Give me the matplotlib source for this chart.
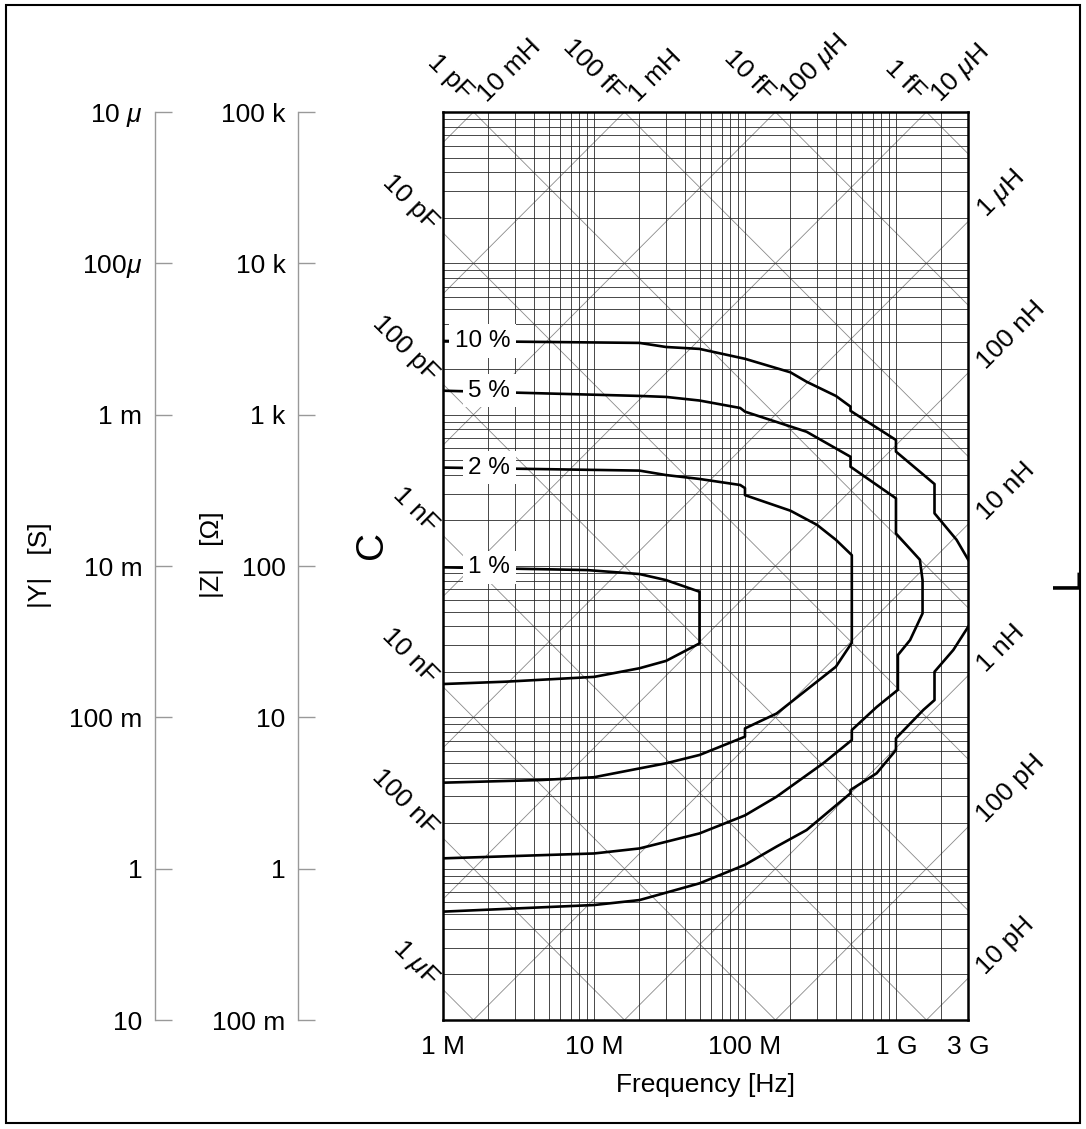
import matplotlib.pyplot as plt
import numpy as np
from matplotlib.ticker import LogLocator, FixedLocator, FixedFormatter, NullLocator, NullFormatter
from matplotlib.patches import Rectangle

plt.rcParams['font.family'] = ['Liberation Sans', 'DejaVu Sans']
plt.rcParams['mathtext.fontset'] = 'custom'
plt.rcParams['mathtext.it'] = 'Liberation Sans:italic'
plt.rcParams['mathtext.rm'] = 'Liberation Sans'

# accuracy contours: frequency [MHz], |Z| [ohm]
acc10_top_f = [1, 20, 30, 50, 100, 200, 256, 400, 500, 500, 1000, 1000, 1800, 1800, 2520, 3010]
acc10_top_z = [3070, 2980, 2800, 2720, 2340, 1905, 1650, 1330, 1130, 1060, 680, 570, 348, 223, 149, 110]
acc10_bot_f = [3010, 2400, 1800, 1800, 1520, 1000, 1000, 745, 500, 500, 256, 162, 100, 50, 20, 10, 1]
acc10_bot_z = [39.7, 27.9, 20, 13, 11.2, 7.27, 6.08, 4.27, 3.31, 3.15, 1.80, 1.40, 1.06, 0.80, 0.62, 0.575, 0.52]

acc5_f = [1, 20, 30, 50, 93, 100, 256, 500, 500, 1000, 1000, 1440, 1500, 1500, 1240, 1030, 1030,
          745, 510, 510, 330, 162, 100, 50, 20, 10, 1]
acc5_z = [1440, 1330, 1310, 1240, 1107, 1047, 771, 527, 453, 280, 164, 110, 80.7, 48.6, 32.4, 25.8, 15.2,
          11.7, 8.24, 7.08, 4.97, 2.99, 2.25, 1.71, 1.36, 1.26, 1.17]

acc2_f = [1, 20, 30, 50, 93, 100, 100, 200, 300, 400, 510, 510, 400, 256, 162, 100, 100, 50, 30, 10, 4.4, 1]
acc2_z = [447, 427, 399, 376, 343, 327, 294, 232, 187, 149, 118, 31.1, 21.6, 15.2, 10.6, 8.45, 7.45,
          5.64, 4.97, 4.02, 3.85, 3.70]

acc1_f = [1, 9, 20, 30, 50, 50, 30, 20, 10, 2.6, 1]
acc1_z = [98, 94, 88.5, 80.7, 67.6, 30.8, 23.6, 21.1, 18.5, 17.2, 16.6]

acc_labels = ["10 %", "5 %", "2 %", "1 %"]
acc_label_z = [3070, 1440, 447, 98]

# reference lines
cap_vals = [1e-16, 1e-15, 1e-14, 1e-13, 1e-12, 1e-11, 1e-10, 1e-9, 1e-8, 1e-7, 1e-6, 1e-5]
cap_names = [None, "1 fF", "10 fF", "100 fF", "1 pF", "10 pF", "100 pF", "1 nF", "10 nF", "100 nF",
             "1 $\\mu$F", None]
ind_vals = [1e-12, 1e-11, 1e-10, 1e-9, 1e-8, 1e-7, 1e-6, 1e-5, 1e-4, 1e-3, 1e-2, 1e-1]
ind_names = [None, "10 pH", "100 pH", "1 nH", "10 nH", "100 nH", "1 $\\mu$H", "10 $\\mu$H", "100 $\\mu$H",
             "1 mH", "10 mH", None]

freq_ticks = [1e6, 1e7, 1e8, 1e9, 3e9]
freq_labels = ["1 M", "10 M", "100 M", "1 G", "3 G"]
z_ticks = [0.1, 1, 10, 100, 1e3, 1e4, 1e5]
z_labels = ["100 m", "1", "10", "100", "1 k", "10 k", "100 k"]
y_labels = ["10", "1", "100 m", "10 m", "1 m", "100$\\mu$", "10 $\\mu$"]

FMIN, FMAX = 1e6, 3e9
ZMIN, ZMAX = 0.1, 1e5
FS = 19

W, H = 1086, 1129
fig = plt.figure(figsize=(W / 100, H / 100), dpi=100)
L, R, T, B = 443, 968, 112, 1020
ax = fig.add_axes([L / W, 1 - B / H, (R - L) / W, (B - T) / H])
ax.set_xscale('log')
ax.set_yscale('log')
ax.set_xlim(FMIN, FMAX)
ax.set_ylim(ZMIN, ZMAX)

ax.xaxis.set_major_locator(FixedLocator(freq_ticks))
ax.xaxis.set_major_formatter(FixedFormatter(freq_labels))
ax.xaxis.set_minor_locator(LogLocator(base=10, subs=np.arange(2, 10), numticks=100))
ax.xaxis.set_minor_formatter(NullFormatter())
ax.yaxis.set_major_locator(LogLocator(base=10, numticks=100))
ax.yaxis.set_minor_locator(LogLocator(base=10, subs=np.arange(2, 10), numticks=100))
ax.yaxis.set_major_formatter(NullFormatter())
ax.yaxis.set_minor_formatter(NullFormatter())
ax.tick_params(which='both', length=0)
ax.tick_params(axis='x', labelsize=FS, pad=11)
ax.grid(which='both', color='#2a2a2a', lw=0.6)
for s in ax.spines.values():
    s.set_linewidth(1.8)

# C and L diagonals
fr = np.array([1e5, 1e11])
for c, name in zip(cap_vals, cap_names):
    ax.plot(fr, 1 / (2 * np.pi * fr * c), color='#8a8a8a', lw=0.6, zorder=1)
    if name is None:
        continue
    z0 = 1 / (2 * np.pi * FMIN * c)
    if z0 <= ZMAX:
        xy, off = (FMIN, z0), (-9, 7)
    else:
        xy, off = (1 / (2 * np.pi * ZMAX * c), ZMAX), (-5, 16)
    ax.annotate(name, xy=xy, xytext=off, textcoords='offset pixels', rotation=-45,
                rotation_mode='anchor', ha='right', va='center', fontsize=FS, annotation_clip=False)
for l, name in zip(ind_vals, ind_names):
    ax.plot(fr, 2 * np.pi * fr * l, color='#8a8a8a', lw=0.6, zorder=1)
    if name is None:
        continue
    z0 = 2 * np.pi * FMAX * l
    if z0 <= ZMAX:
        xy, off = (FMAX, z0), (13, 8)
    else:
        xy, off = (ZMAX / (2 * np.pi * l), ZMAX), (9, 14)
    ax.annotate(name, xy=xy, xytext=off, textcoords='offset pixels', rotation=45,
                rotation_mode='anchor', ha='left', va='center', fontsize=FS, annotation_clip=False)

# accuracy curves
curves = [(acc10_top_f, acc10_top_z), (acc10_bot_f, acc10_bot_z), (acc5_f, acc5_z),
          (acc2_f, acc2_z), (acc1_f, acc1_z)]
for f, z in curves:
    ax.plot(np.array(f) * 1e6, z, color='black', lw=1.9, zorder=3)
for lab, z in zip(acc_labels, acc_label_z):
    ax.text(2.78e6, z, lab, fontsize=17.5, ha='right', va='center', zorder=4,
            bbox=dict(facecolor='white', edgecolor='none', pad=4))

# |Z| and |Y| scales
for xpix, labels in [(298, z_labels), (155, y_labels)]:
    a = fig.add_axes([xpix / W, 1 - B / H, 0.0001, (B - T) / H])
    a.set_yscale('log')
    a.set_ylim(ZMIN, ZMAX)
    a.set_xticks([])
    for k in ['top', 'right', 'bottom']:
        a.spines[k].set_visible(False)
    a.spines['left'].set_color('#999999')
    a.spines['left'].set_linewidth(1.0)
    a.yaxis.set_major_locator(FixedLocator(z_ticks))
    a.yaxis.set_major_formatter(FixedFormatter(labels))
    a.yaxis.set_minor_locator(NullLocator())
    a.tick_params(axis='y', direction='in', length=12, width=1.0, color='#999999',
                  labelsize=FS, pad=9)
    a.patch.set_visible(False)

fig.text(40 / W, 1 - 565 / H, "|Y|   [S]", rotation=90, ha='center', va='center', fontsize=FS)
fig.text(212 / W, 1 - 555 / H, "|Z|   [Ω]", rotation=90, ha='center', va='center', fontsize=FS)
fig.text(372 / W, 1 - 545 / H, "C", rotation=90, ha='center', va='center', fontsize=28)
fig.text(1068 / W, 1 - 578 / H, "L", rotation=90, ha='center', va='center', fontsize=28)
fig.text(705 / W, 1 - 1085 / H, "Frequency [Hz]", ha='center', va='center', fontsize=FS)

fig.add_artist(Rectangle((6 / W, 1 - 1123 / H), 1074 / W, 1118 / H, transform=fig.transFigure,
                         fill=False, ec='black', lw=1.5))

fig.savefig('out.png', dpi=100)
